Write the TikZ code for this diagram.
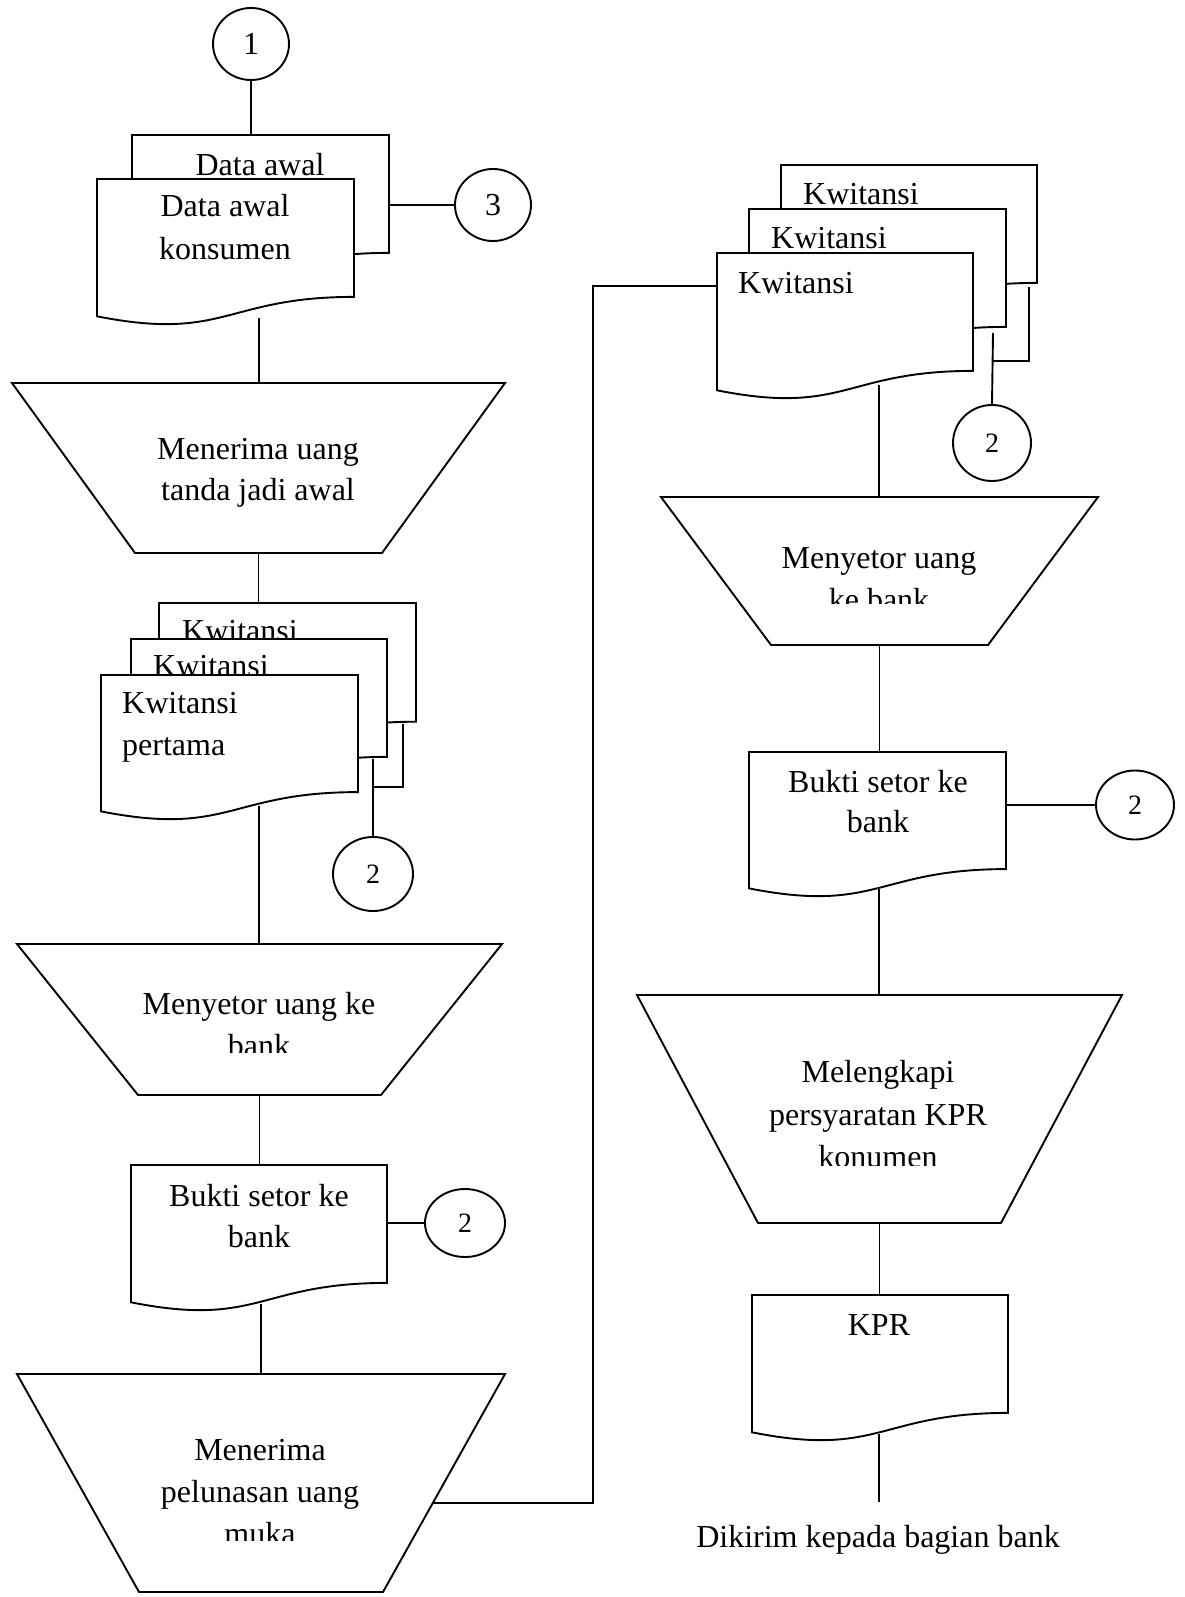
\documentclass[tikz,border=0pt]{standalone}
\usepackage{fontspec}
\setmainfont{Liberation Serif}
\usetikzlibrary{calc,shapes.geometric}

\tikzset{
  flowline/.style={line width=1.9pt, line join=miter},
  holder/.style={rectangle, inner sep=0pt, outer sep=0pt},
  lbl/.style={inner sep=0pt, anchor=base, font=\fontsize{32}{42}\selectfont},
  lbll/.style={lbl, anchor=base west},
  conn/.style={draw, ellipse, flowline, fill=white, inner sep=0pt, font=\fontsize{32}{38}\selectfont},
  conntwo/.style={conn, font=\fontsize{28}{34}\selectfont},
}

% document symbol: name, left, top, width, height
\newcommand\flowdoc[5]{%
  \node[holder, minimum width=#4pt, minimum height=#5pt, anchor=north west] (#1) at (#2,#3) {};
  \draw[flowline, fill=white] (#1.north west) -- (#1.north east)
    -- ($(#1.north east)!0.802!(#1.south east)$)
    .. controls ($(#1.north)!0.802!(#1.south)$) and ($(#1.north)!1.1075!(#1.south)$)
    .. ($(#1.north west)!0.934!(#1.south west)$) -- cycle;
}

% manual operation symbol: name, centre x, centre y, width, height, inset
\newcommand\flowtrap[6]{%
  \node[holder, minimum width=#4pt, minimum height=#5pt] (#1) at (#2,#3) {};
  \draw[flowline, fill=white] (#1.north west) -- (#1.north east)
    -- ([xshift=-#6pt]#1.south east) -- ([xshift=#6pt]#1.south west) -- cycle;
}

\begin{document}
\begin{tikzpicture}[x=1pt,y=-1pt]
\useasboundingbox (0,0) rectangle (1184,1597);

% ---------------- left column ----------------
\node[conn, minimum width=76pt, minimum height=72pt] (c1) at (251,44) {1};

\flowdoc{dAb}{132}{135}{257}{147}
\node[lbl] (dAb-t) at (260,176) {Data awal};
\flowdoc{dA}{97}{179}{257}{147}
\node[lbl] (dA-a) at (225,217) {Data awal};
\node[lbl] (dA-b) at (225,259) {konsumen};
\node[conn, minimum width=76pt, minimum height=72pt] (c3) at (493,205) {3};

\flowtrap{t1}{258.5}{468}{493}{170}{123}
\node[lbl] (t1-a) at (258,459) {Menerima uang};
\node[lbl] (t1-b) at (258,500) {tanda jadi awal};

\flowdoc{kL3}{159}{603}{257}{148}
\node[lbll] (kL3-t) at (182,641) {Kwitansi};
\flowdoc{kL2}{131}{639}{256}{147}
\node[lbll] (kL2-t) at (153,676) {Kwitansi};
\flowdoc{kL1}{101}{675}{257}{146}
\node[lbll] (kL1-a) at (122,713) {Kwitansi};
\node[lbll] (kL1-b) at (122,755) {pertama};
\node[conntwo, minimum width=80pt, minimum height=74pt] (c2a) at (373,874) {2};

\flowtrap{t2}{259.5}{1019.5}{485}{151}{121}
\node[lbl] (t2-a) at (259,1014) {Menyetor uang ke};
\begin{scope}
  \clip (17,944) rectangle (502,1052);
  \node[lbl] (t2-b) at (259,1056) {bank};
\end{scope}

\flowdoc{bL}{131}{1165}{256}{147}
\node[lbl] (bL-a) at (259,1206) {Bukti setor ke};
\node[lbl] (bL-b) at (259,1247) {bank};
\node[conntwo, minimum width=80pt, minimum height=68pt] (c2b) at (465,1223) {2};

\flowtrap{t3}{261}{1483}{488}{218}{122}
\node[lbl] (t3-a) at (260,1460) {Menerima};
\node[lbl] (t3-b) at (260,1502) {pelunasan uang};
\begin{scope}
  \clip (17,1374) rectangle (505,1540);
  \node[lbl] (t3-c) at (260,1544) {muka};
\end{scope}

% ---------------- right column ----------------
\flowdoc{kR3}{781}{165}{256}{147}
\node[lbll] (kR3-t) at (803,205) {Kwitansi};
\flowdoc{kR2}{749}{209}{257}{147}
\node[lbll] (kR2-t) at (771,249) {Kwitansi};
\flowdoc{kR1}{717}{253}{256}{147}
\node[lbll] (kR1-t) at (738,293) {Kwitansi};
\node[conntwo, minimum width=78pt, minimum height=76pt] (c2c) at (992,443) {2};

\flowtrap{t4}{879.5}{571}{437}{148}{110}
\node[lbl] (t4-a) at (879,568) {Menyetor uang};
\begin{scope}
  \clip (661,497) rectangle (1098,603);
  \node[lbl] (t4-b) at (879,610) {ke bank};
\end{scope}

\flowdoc{bR}{749}{752}{257}{146}
\node[lbl] (bR-a) at (878,792) {Bukti setor ke};
\node[lbl] (bR-b) at (878,832) {bank};
\node[conntwo, minimum width=78pt, minimum height=69pt] (c2d) at (1135,805) {2};

\flowtrap{t5}{879.5}{1109}{485}{228}{121}
\node[lbl] (t5-a) at (878,1082) {Melengkapi};
\node[lbl] (t5-b) at (878,1125) {persyaratan KPR};
\begin{scope}
  \clip (637,995) rectangle (1122,1165);
  \node[lbl] (t5-c) at (878,1167) {konumen};
\end{scope}

\flowdoc{kpr}{752}{1295}{256}{147}
\node[lbl] (kpr-t) at (879,1335) {KPR};

\node[lbl] (dest) at (878,1547) {Dikirim kepada bagian bank};

% ---------------- connectors ----------------
\coordinate (dA-tap) at (259,318);
\coordinate (kL3-tap) at (403,724);
\coordinate (kL-join) at (373,787);
\coordinate (kL2-tap) at (373,759);
\coordinate (kL1-tap) at (259,806);
\coordinate (bL-tap) at (261,1304);
\coordinate (t3-out) at ($(t3.north east)!0.59!([xshift=-122pt]t3.south east)$);
\coordinate (trunk) at (593,900);
\coordinate (kR1-in) at (717,286);
\coordinate (kR3-tap) at (1029,287);
\coordinate (kR-join) at (993,361);
\coordinate (kR2-tap) at (993,333);
\coordinate (kR1-tap) at (879,385);
\coordinate (bR-tap) at (879,889);
\coordinate (kpr-tap) at (879,1434);
\coordinate (kpr-end) at (879,1502);

\draw[flowline] (c1.south) -- (c1.south |- dAb.north);
\draw[flowline] (c3.west) -- (c3.west -| dAb.east);
\draw[flowline] (dA-tap) -- (dA-tap |- t1.north);
\draw[flowline] (t1.south) -- (t1.south |- kL3.north);
\draw[flowline] (kL3-tap) |- (kL-join);
\draw[flowline] (kL2-tap) -- (c2a.north);
\draw[flowline] (kL1-tap) -- (kL1-tap |- t2.north);
\draw[flowline] (t2.south) -- (t2.south |- bL.north);
\draw[flowline] (c2b.west) -- (c2b.west -| bL.east);
\draw[flowline] (bL-tap) -- (bL-tap |- t3.north);
\draw[flowline] (t3-out) -| (trunk) |- (kR1-in);

\draw[flowline] (kR3-tap) |- (kR-join);
\draw[flowline] (kR2-tap) -- (c2c.north);
\draw[flowline] (kR1-tap) -- (kR1-tap |- t4.north);
\draw[flowline] (t4.south) -- (t4.south |- bR.north);
\draw[flowline] (c2d.west) -- (c2d.west -| bR.east);
\draw[flowline] (bR-tap) -- (bR-tap |- t5.north);
\draw[flowline] (t5.south) -- (t5.south |- kpr.north);
\draw[flowline] (kpr-tap) -- (kpr-end);

\end{tikzpicture}
\end{document}
